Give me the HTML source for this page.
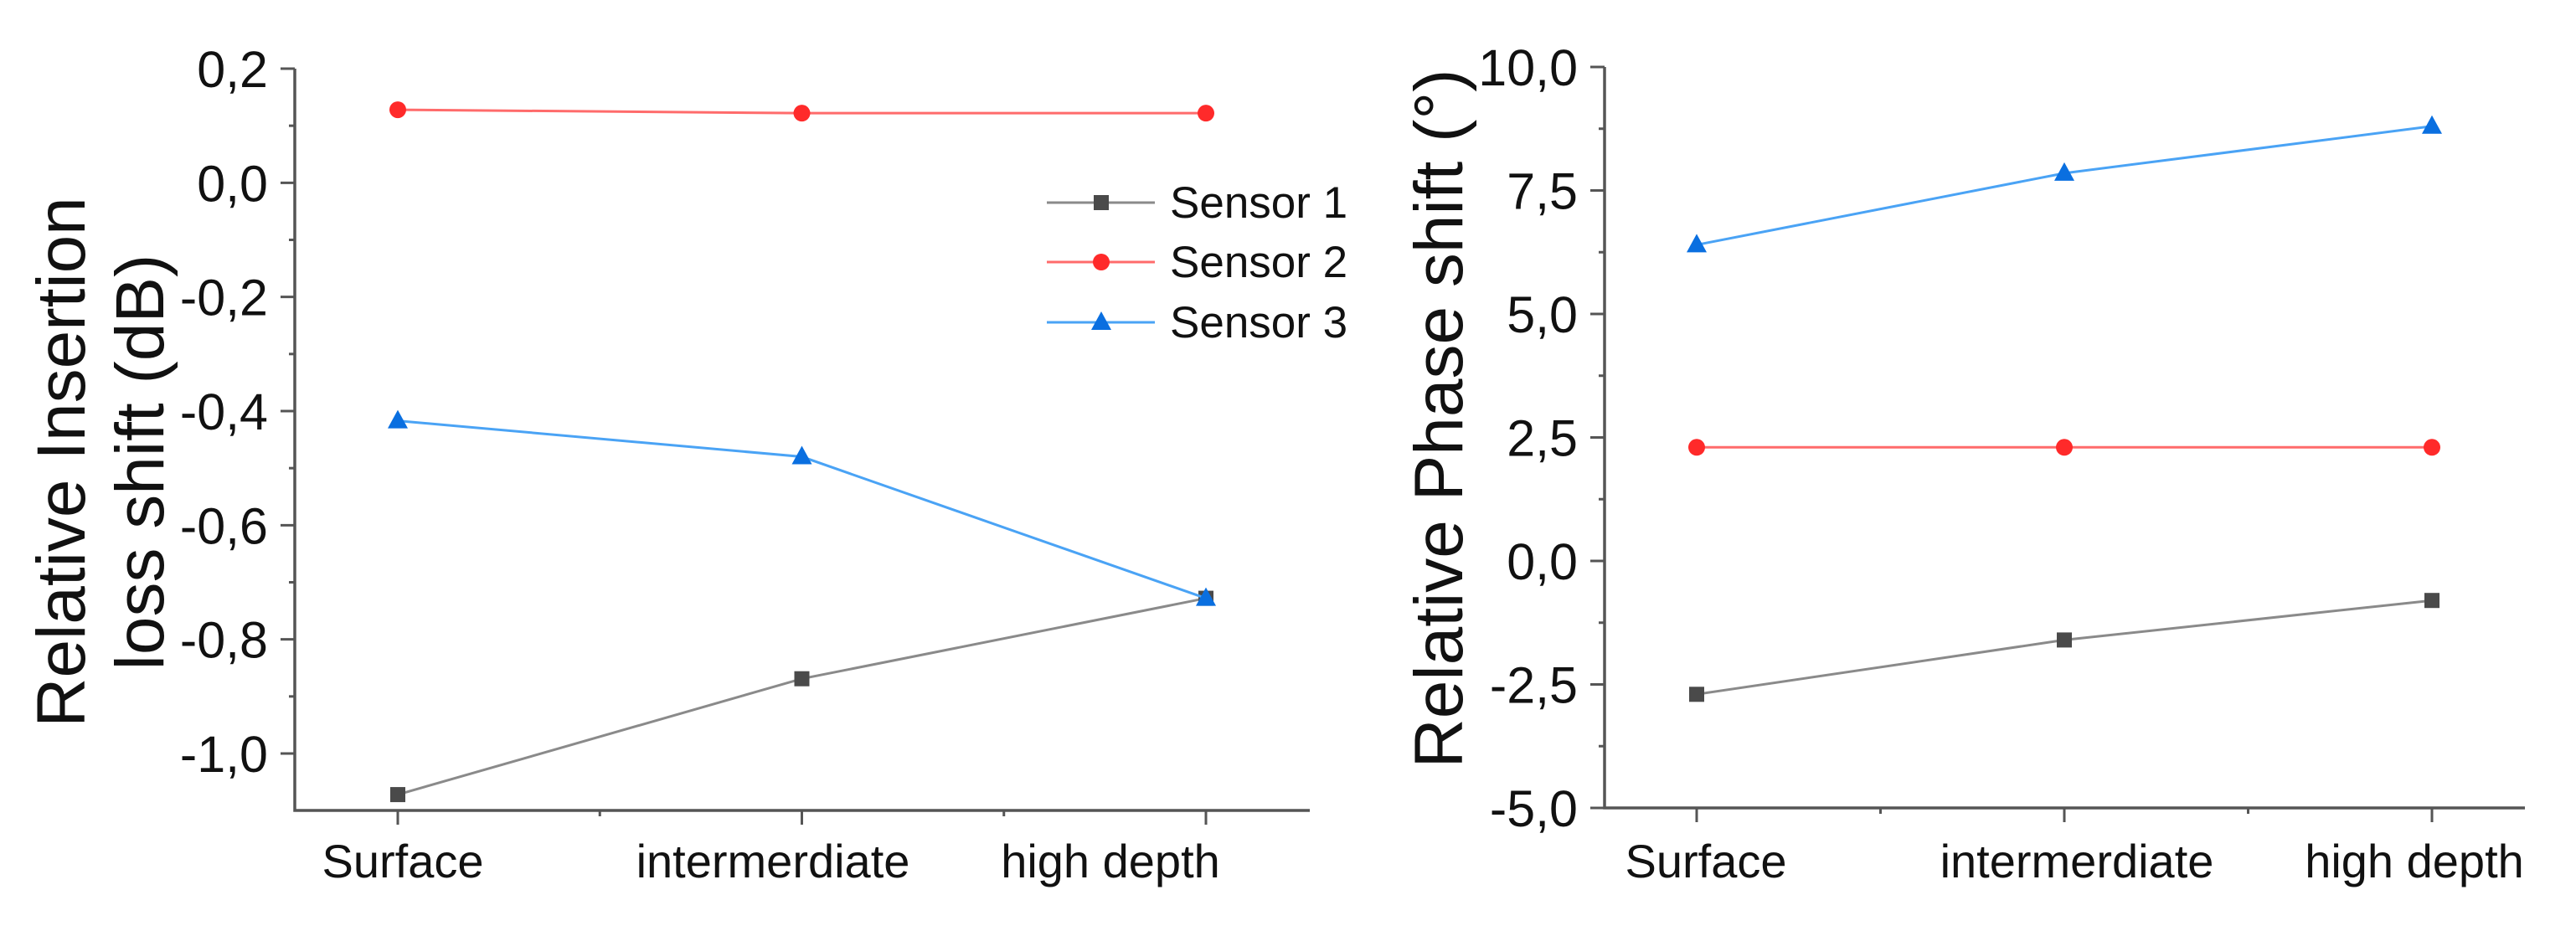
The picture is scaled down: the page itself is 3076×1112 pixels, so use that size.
<!DOCTYPE html>
<html><head><meta charset="utf-8"><style>
html,body{margin:0;padding:0;background:#fff;}
svg{display:block;font-family:"Liberation Sans",Arial,sans-serif;}
</style></head><body>
<svg id="fig" width="3076" height="1112" viewBox="0 0 3076 1112" xmlns="http://www.w3.org/2000/svg"></svg>
<script>
const categories = ["Surface", "intermerdiate", "high depth"];
const seriesNames = ["Sensor 1", "Sensor 2", "Sensor 3"];
const lossS1 = [-1.072, -0.869, -0.728];
const lossS2 = [0.128, 0.122, 0.122];
const lossS3 = [-0.417, -0.48, -0.728];
const phaseS1 = [-2.7, -1.6, -0.8];
const phaseS2 = [2.3, 2.3, 2.3];
const phaseS3 = [6.4, 7.85, 8.8];
const lossTicks = [0.2, 0.0, -0.2, -0.4, -0.6, -0.8, -1.0];
const lossTickLabels = ["0,2", "0,0", "-0,2", "-0,4", "-0,6", "-0,8", "-1,0"];
const phaseTicks = [10, 7.5, 5, 2.5, 0, -2.5, -5];
const phaseTickLabels = ["10,0", "7,5", "5,0", "2,5", "0,0", "-2,5", "-5,0"];

const NS = "http://www.w3.org/2000/svg";
const svg = document.getElementById("fig");
function mk(tag, attrs, parent) {
  const e = document.createElementNS(NS, tag);
  for (const k in attrs) e.setAttribute(k, attrs[k]);
  (parent || svg).appendChild(e);
  return e;
}
const styles = [
  {line: "#8a8a8a", mark: "#4a4a4a", shape: "square"},
  {line: "#ff6b6b", mark: "#ff2a2a", shape: "circle"},
  {line: "#4aa3f5", mark: "#0a6fe0", shape: "triangle"}
];
function marker(g, shape, x, y, color) {
  let m;
  if (shape === "square") m = mk("rect", {x: x - 9, y: y - 9, width: 18, height: 18, fill: color}, g);
  else if (shape === "circle") m = mk("circle", {cx: x, cy: y, r: 10, fill: color}, g);
  else m = mk("polygon", {points: `${x},${y - 13} ${x + 12},${y + 9} ${x - 12},${y + 9}`, fill: color}, g);
  return m;
}

function chart(cfg) {
  const g = mk("g", {});
  
  
  const yScale = v => cfg.y0px + (cfg.v0 - v) / (cfg.v0 - cfg.v1) * (cfg.y1px - cfg.y0px);
  const xScale = i => cfg.xcat0 + i * cfg.xstep;
  const ax = mk("path", {d: `M${cfg.axX},${cfg.axTop} V${cfg.axBottom} H${cfg.axRight}`, stroke: "#555", "stroke-width": 3.5, fill: "none"}, g);
  
  
  cfg.ticks.forEach((t, i) => {
    const y = yScale(t);
    mk("line", {x1: cfg.axX - 17, x2: cfg.axX, y1: y, y2: y, stroke: "#555", "stroke-width": 3}, g);
    if (i < cfg.ticks.length - 1) {
      const ym = yScale((t + cfg.ticks[i + 1]) / 2);
      mk("line", {x1: cfg.axX - 7, x2: cfg.axX, y1: ym, y2: ym, stroke: "#555", "stroke-width": 3}, g);
    }
    const tl = mk("text", {x: cfg.axX - 32, y: y + 22, "font-size": 61, "text-anchor": "end", fill: "#111"}, g);
    tl.textContent = cfg.tickLabels[i];
    
    
  });
  categories.forEach((c, i) => {
    const x = xScale(i);
    mk("line", {x1: x, x2: x, y1: cfg.axBottom, y2: cfg.axBottom + 17, stroke: "#555", "stroke-width": 3}, g);
    if (i < categories.length - 1) {
      const xm = x + cfg.xstep / 2;
      mk("line", {x1: xm, x2: xm, y1: cfg.axBottom, y2: cfg.axBottom + 7, stroke: "#555", "stroke-width": 3}, g);
    }
    const xl = mk("text", {x: cfg.labelX[i], y: 1048, "font-size": 56, "text-anchor": "middle", fill: "#111"}, g);
    xl.textContent = c;
    
    
  });
  const tt = mk("text", {transform: `translate(${cfg.titleX},${cfg.titleY}) rotate(-90)`, "font-size": 82, "text-anchor": "middle", fill: "#111"}, g);
  cfg.title.forEach((line, k) => {
    const ts = mk("tspan", {x: 0, dy: k === 0 ? 0 : 94}, tt);
    ts.textContent = line;
  });
  
  
  cfg.series.forEach((vals, s) => {
    const sg = mk("g", {}, g);
    
    
    const pts = vals.map((v, i) => `${xScale(i)},${yScale(v)}`).join(" ");
    mk("polyline", {points: pts, fill: "none", stroke: styles[s].line, "stroke-width": 3}, sg);
    vals.forEach((v, i) => {
      const m = marker(sg, styles[s].shape, xScale(i), yScale(v), styles[s].mark);
      
      
    });
  });
}

chart({name: "insertion-loss-chart", axX: 352, axTop: 82, axBottom: 968, axRight: 1564,
  v0: 0.2, v1: -1.0, y0px: 82, y1px: 900, xcat0: 475, xstep: 482.5,
  ticks: lossTicks, tickLabels: lossTickLabels, labelX: [481, 923, 1326],
  title: ["Relative Insertion", "loss shift (dB)"], titleX: 101, titleY: 552,
  series: [lossS1, lossS2, lossS3]});

chart({name: "phase-shift-chart", axX: 1916, axTop: 80, axBottom: 965, axRight: 3015,
  v0: 10, v1: -5, y0px: 80, y1px: 965, xcat0: 2026, xstep: 439,
  ticks: phaseTicks, tickLabels: phaseTickLabels, labelX: [2037, 2480, 2883],
  title: ["Relative Phase shift (°)"], titleX: 1746, titleY: 500,
  series: [phaseS1, phaseS2, phaseS3]});

const lg = mk("g", {});


const legY = [242, 313, 385];
seriesNames.forEach((n, s) => {
  const eg = mk("g", {}, lg);
  
  
  mk("line", {x1: 1250, x2: 1379, y1: legY[s], y2: legY[s], stroke: styles[s].line, "stroke-width": 3}, eg);
  marker(eg, styles[s].shape, 1315, legY[s], styles[s].mark);
  const t = mk("text", {x: 1397, y: legY[s] + 18, "font-size": 53, fill: "#111"}, eg);
  t.textContent = n;
});
</script>
</body></html>
